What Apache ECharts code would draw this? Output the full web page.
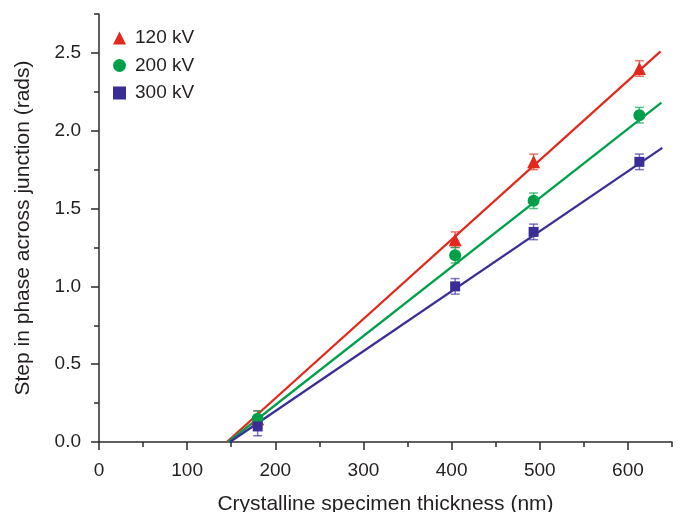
<!DOCTYPE html>
<html><head><meta charset="utf-8">
<script src="https://cdn.jsdelivr.net/npm/echarts@6/dist/echarts.min.js"></script>
<style>html,body{margin:0;padding:0;background:#fff}#c{width:680px;height:512px}</style>
</head><body><div id="c"></div>
<script>
// ---- data ----
const thickness = [180, 404, 493, 613];
const kv120 = [0.15, 1.30, 1.80, 2.40];
const kv200 = [0.15, 1.20, 1.55, 2.10];
const kv300 = [0.10, 1.00, 1.35, 1.80];
const err120 = [0.05, 0.05, 0.05, 0.05];
const err200 = [0.05, 0.05, 0.05, 0.05];
const err300 = [0.06, 0.05, 0.05, 0.05];
// linear fits: [x-intercept, 0] to [end x, y]
const fit120 = [[145, 0], [637, 2.51]];
const fit200 = [[146.5, 0], [638, 2.18]];
const fit300 = [[148.5, 0], [639, 1.89]];
const seriesNames = ['120 kV', '200 kV', '300 kV'];
const xTickLabels = [0, 100, 200, 300, 400, 500, 600];
const yTickLabels = [0, 0.5, 1.0, 1.5, 2.0, 2.5];

const colors = ['#e3291d', '#00a04b', '#3a2d96'];
const FONT = "'Liberation Sans', Arial, sans-serif";
const TXT = '#231f20';

function pts(xs, ys) { return xs.map((x, i) => [x, ys[i]]); }
function errPts(xs, ys, es) { return xs.map((x, i) => [x, ys[i], es[i]]); }

function errSeries(data, color) {
  return {
    type: 'custom', xAxisIndex: 0, yAxisIndex: 0, z: 3, silent: true,
    data: data, encode: { x: 0, y: 1 },
    renderItem: function (params, api) {
      const x = api.value(0), y = api.value(1), e = api.value(2);
      const t = api.coord([x, y + e]), b = api.coord([x, y - e]);
      const w = 4.5;
      const st = { stroke: color, lineWidth: 1.5, opacity: 0.65 };
      return { type: 'group', children: [
        { type: 'line', shape: { x1: t[0], y1: t[1], x2: b[0], y2: b[1] }, style: st },
        { type: 'line', shape: { x1: t[0] - w, y1: t[1], x2: t[0] + w, y2: t[1] }, style: st },
        { type: 'line', shape: { x1: b[0] - w, y1: b[1], x2: b[0] + w, y2: b[1] }, style: st }
      ] };
    }
  };
}
function fitSeries(data, color, name) {
  return { type: 'line', name: name, data: data, xAxisIndex: 0, yAxisIndex: 0, z: 2,
    symbol: 'none', lineStyle: { color: color, width: 2.3 }, silent: true };
}
function scatterSeries(name, data, color, symbol, size) {
  return { type: 'scatter', name: name, data: data, xAxisIndex: 0, yAxisIndex: 0, z: 4,
    symbol: symbol, symbolSize: size, itemStyle: { color: color, opacity: 1 } };
}

const axisLineStyle = { color: '#2b2b2b', width: 1.5 };
const chart = echarts.init(document.getElementById('c'), null, { renderer: 'canvas' });
chart.setOption({
  animation: false,
  backgroundColor: '#fff',
  textStyle: { fontFamily: FONT },
  grid: { left: 99, right: 8, top: 14, bottom: 70, containLabel: false, outerBoundsMode: 'none' },
  legend: {
    orient: 'vertical', left: 108, top: 23, itemWidth: 13, itemHeight: 13, itemGap: 7.5,
    textStyle: { fontSize: 19, lineHeight: 20, color: TXT, fontFamily: FONT, padding: [0, 0, 0, 4] },
    data: seriesNames
  },
  xAxis: [
    { type: 'value', min: 0, max: 650, interval: 50, position: 'bottom',
      name: 'Crystalline specimen thickness (nm)', nameLocation: 'middle', nameGap: 52,
      nameTextStyle: { fontSize: 21, color: TXT, fontFamily: FONT },
      axisLine: { show: true, lineStyle: axisLineStyle },
      axisTick: { show: true, length: 5, lineStyle: axisLineStyle },
      axisLabel: { show: false }, splitLine: { show: false } },
    { type: 'value', min: 0, max: 650, position: 'bottom', offset: 0,
      axisLine: { show: false },
      axisTick: { show: true, length: 8, customValues: xTickLabels, lineStyle: axisLineStyle },
      axisLabel: { show: true, customValues: xTickLabels, fontSize: 19, color: TXT, margin: 19, fontFamily: FONT },
      splitLine: { show: false } }
  ],
  yAxis: [
    { type: 'value', min: 0, max: 2.75, interval: 0.25, position: 'left',
      name: 'Step in phase across junction (rads)', nameLocation: 'middle', nameGap: 65,
      nameTextStyle: { fontSize: 21, color: TXT, fontFamily: FONT },
      axisLine: { show: true, lineStyle: axisLineStyle },
      axisTick: { show: true, length: 5, lineStyle: axisLineStyle },
      axisLabel: { show: false }, splitLine: { show: false } },
    { type: 'value', min: 0, max: 2.75, position: 'left', offset: 0,
      axisLine: { show: false },
      axisTick: { show: true, length: 8, customValues: yTickLabels, lineStyle: axisLineStyle },
      axisLabel: { show: true, customValues: yTickLabels, fontSize: 19, color: TXT, margin: 18,
        fontFamily: FONT, padding: [5, 0, 0, 0], formatter: v => v.toFixed(1) },
      splitLine: { show: false } }
  ],
  series: [
    fitSeries(fit120, colors[0], 'fit120'),
    fitSeries(fit200, colors[1], 'fit200'),
    fitSeries(fit300, colors[2], 'fit300'),
    errSeries(errPts(thickness, kv120, err120), colors[0]),
    errSeries(errPts(thickness, kv200, err200), colors[1]),
    errSeries(errPts(thickness, kv300, err300), colors[2]),
    scatterSeries(seriesNames[0], pts(thickness, kv120), colors[0], 'triangle', 13),
    scatterSeries(seriesNames[1], pts(thickness, kv200), colors[1], 'circle', 12),
    scatterSeries(seriesNames[2], pts(thickness, kv300), colors[2], 'rect', 10)
  ]
});
</script></body></html>
